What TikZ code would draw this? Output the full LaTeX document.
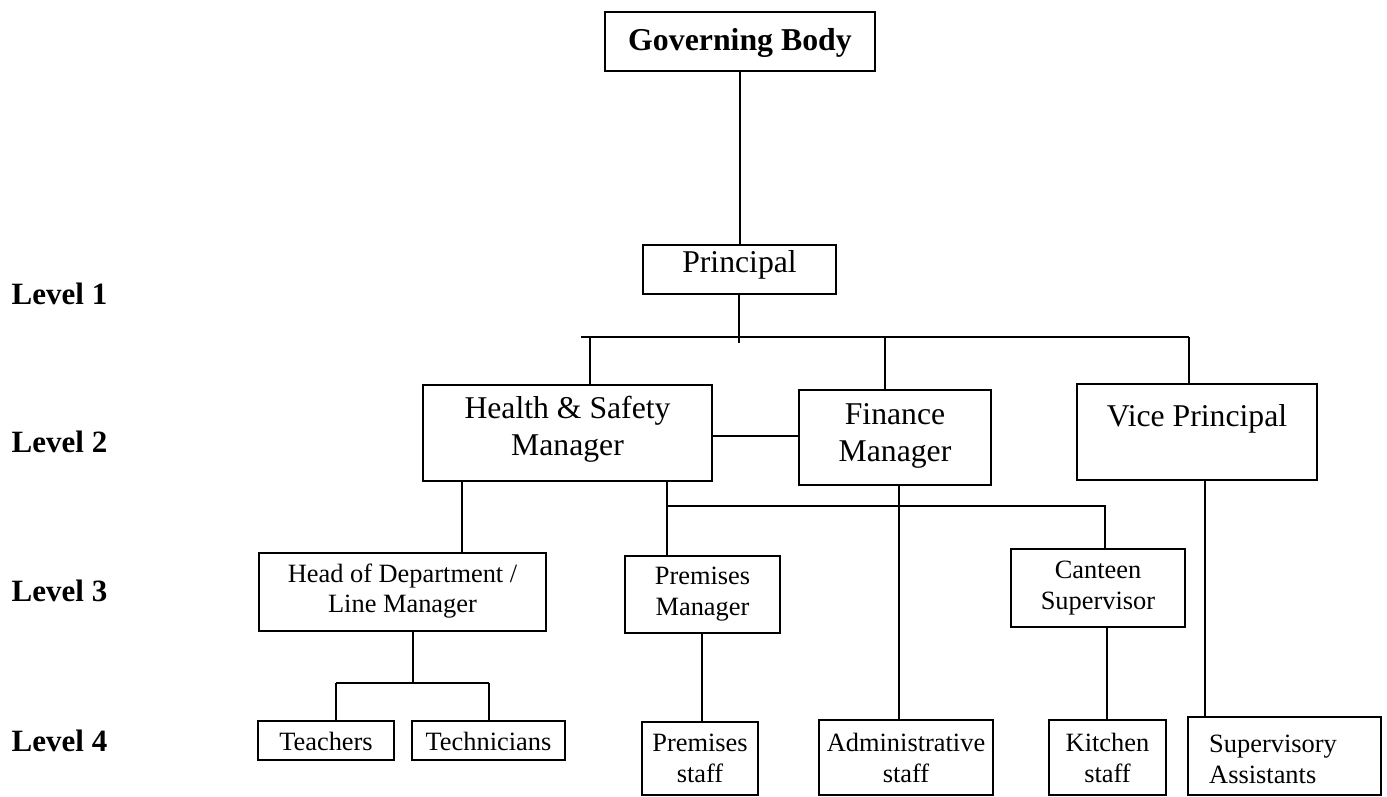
\documentclass[tikz,border=0pt]{standalone}
\usepackage{fontspec}
\setmainfont{Liberation Serif}
\usetikzlibrary{fit}
\tikzset{
  boxs/.style={draw, line width=2.5pt, inner sep=0pt, fit={#1}},
  thinbox/.style={draw, line width=2.1pt, inner sep=0pt, fit={#1}},
  conn/.style={line width=2.5pt},
  bigtxt/.style={inner sep=0pt, align=center, font=\fontsize{31.7}{37}\selectfont},
  smtxt/.style={inner sep=0pt, align=center, font=\fontsize{26.4}{30.8}\selectfont},
  lvl/.style={inner sep=0pt, anchor=west, font=\fontsize{31}{36}\selectfont\bfseries},
  gbtxt/.style={inner sep=0pt, font=\fontsize{31.8}{36}\selectfont\bfseries}
}
\begin{document}
\begin{tikzpicture}[x=1pt,y=-1pt]
\useasboundingbox[fill=white] (0,0) rectangle (1387,797);

% boxes
\node[boxs={(605,12) (875,71)}] (gb) {};
\node[boxs={(643,245) (836,294)}] (pr) {};
\node[boxs={(423,385) (712,481)}] (hs) {};
\node[boxs={(799,390) (991,485)}] (fin) {};
\node[thinbox={(1077,384) (1317,480)}] (vp) {};
\node[boxs={(259,553) (546,631)}] (hod) {};
\node[boxs={(625,556) (780,633)}] (pm) {};
\node[boxs={(1011,549) (1185,627)}] (cs) {};
\node[boxs={(258,721) (394,760)}] (te) {};
\node[boxs={(412,721) (565,760)}] (tc) {};
\node[boxs={(642,722) (758,795)}] (ps) {};
\node[boxs={(819,720) (993,795)}] (ad) {};
\node[boxs={(1049,720) (1166,795)}] (ks) {};
\node[thinbox={(1188,717) (1381,795)}] (sa) {};

% texts
\node[gbtxt] (gbt) at (740,43) {Governing Body};
\node[bigtxt] (prt) at (739.5,265) {Principal};
\node[bigtxt] (hst) at (567.5,429) {Health \& Safety\\Manager};
\node[bigtxt] (fint) at (895,436) {Finance\\Manager};
\node[bigtxt] (vpt) at (1197,419) {Vice Principal};
\node[smtxt] (hodt) at (402.5,591) {Head of Department /\\Line Manager};
\node[smtxt] (pmt) at (702.5,594) {Premises\\Manager};
\node[smtxt] (cst) at (1098,588) {Canteen\\Supervisor};
\node[smtxt] (tet) at (326,741) {Teachers};
\node[smtxt] (tct) at (488.5,741) {Technicians};
\node[smtxt] (pst) at (700,758) {Premises\\staff};
\node[smtxt] (adt) at (906,758) {Administrative\\staff};
\node[smtxt] (kst) at (1107.5,758) {Kitchen\\staff};
\node[smtxt, anchor=west, align=left] (sat) at (1209,759) {Supervisory\\Assistants};

% level labels
\node[lvl] (l1) at (11.5,294) {Level 1};
\node[lvl] (l2) at (11.5,442) {Level 2};
\node[lvl] (l3) at (11.5,591) {Level 3};
\node[lvl] (l4) at (11.5,741) {Level 4};

% bus coordinates
\coordinate (busL) at (581,337);
\coordinate (busR) at (1189,337);
\coordinate (prtail) at (739,343);
\coordinate (hodbusL) at (336,683);
\coordinate (hodbusR) at (489,683);
\coordinate (hodmid) at (413,683);
\coordinate (hsbusL) at (667,506);
\coordinate (hsbusR) at (1105,506);

% connectors
\draw[conn] (gb.south -| 740,0) -- (pr.north -| 740,0);
\draw[conn] (pr.south -| 739,0) -- (prtail);
\draw[conn] (busL) -- (busR);
\draw[conn] (busL -| 590,0) -- (hs.north -| 590,0);
\draw[conn] (busL -| 885,0) -- (fin.north -| 885,0);
\draw[conn] (busR) -- (vp.north -| busR);
\draw[conn] (hs.east |- 0,436) -- (fin.west |- 0,436);

\draw[conn] (hs.south -| 462,0) -- (hod.north -| 462,0);
\draw[conn] (hod.south -| hodmid) -- (hodmid);
\draw[conn] (hodbusL) -- (hodbusR);
\draw[conn] (hodbusL) -- (te.north -| hodbusL);
\draw[conn] (hodbusR) -- (tc.north -| hodbusR);

\draw[conn] (hs.south -| hsbusL) -- (pm.north -| hsbusL);
\draw[conn] (hsbusL) -- (hsbusR) -- (cs.north -| hsbusR);
\draw[conn] (fin.south -| 899,0) -- (ad.north -| 899,0);
\draw[conn] (pm.south -| 702,0) -- (ps.north -| 702,0);
\draw[conn] (cs.south -| 1107,0) -- (ks.north -| 1107,0);
\draw[conn] (vp.south -| 1205,0) -- (sa.north -| 1205,0);
\end{tikzpicture}
\end{document}
